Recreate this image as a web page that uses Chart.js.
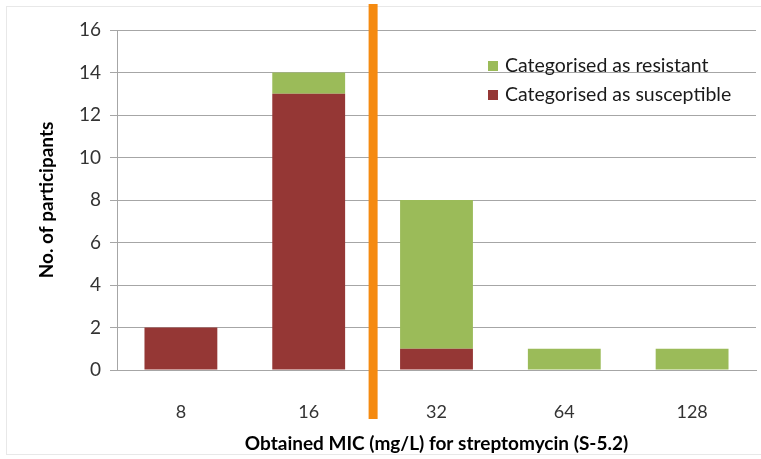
<!DOCTYPE html>
<html>
<head>
<meta charset="utf-8">
<script src="https://cdn.jsdelivr.net/npm/chart.js@4.4.0/dist/chart.umd.min.js"></script>
<style>
  html, body { margin: 0; padding: 0; background: #fff; }
  #wrap { width: 761px; height: 459px; }
</style>
</head>
<body>
<div id="wrap"><canvas id="grafico" width="761" height="459"></canvas></div>
<script>
const categorias = ['8', '16', '32', '64', '128'];
const susceptibles = [2, 13, 1, 0, 0];
const resistentes = [0, 1, 7, 1, 1];
const corte = 1.5; // breakpoint between 16 and 32
const ticksY = [0, 2, 4, 6, 8, 10, 12, 14, 16];

const rojo = '#953735';
const verde = '#9bbb59';
const naranja = '#f58a10';
const gris = '#a6a6a6';
const texto = '#333333';
const fuente = 'Lato, "Open Sans", sans-serif';

const extras = {
    id: 'extras',
    beforeDraw(chart) {
        const ctx = chart.ctx;
        ctx.save();
        ctx.strokeStyle = '#e8e8e8';
        ctx.lineWidth = 1;
        ctx.strokeRect(6.5, 6.5, 800, 448);
        ctx.restore();
    },
    afterDraw(chart) {
        const ctx = chart.ctx;
        const area = chart.chartArea;
        const x = chart.scales.x.getPixelForValue(corte);
        ctx.save();
        ctx.fillStyle = naranja;
        ctx.fillRect(x - 4, 4, 9, 415);

        // legend
        const items = chart.data.datasets.slice().reverse();
        let y = area.top + 36;
        ctx.font = '19.5px ' + fuente;
        ctx.textBaseline = 'middle';
        items.forEach(ds => {
            ctx.fillStyle = ds.backgroundColor;
            ctx.fillRect(area.left + 371, y - 5, 10, 10);
            ctx.fillStyle = '#1a1a1a';
            ctx.fillText(ds.label, area.left + 388, y);
            y += 29;
        });
        ctx.restore();
    }
};

new Chart(document.getElementById('grafico'), {
    type: 'bar',
    data: {
        labels: categorias,
        datasets: [
            { label: 'Categorised as susceptible', data: susceptibles, backgroundColor: rojo },
            { label: 'Categorised as resistant', data: resistentes, backgroundColor: verde }
        ]
    },
    options: {
        responsive: false,
        animation: false,
        layout: { padding: { top: 30, right: 5, bottom: 0, left: 35 } },
        plugins: {
            legend: { display: false },
            tooltip: { enabled: false }
        },
        datasets: {
            bar: { categoryPercentage: 1, barPercentage: 0.57 }
        },
        scales: {
            x: {
                stacked: true,
                grid: { display: false },
                border: { display: true, color: gris },
                ticks: { color: texto, font: { family: fuente, size: 18 }, padding: 23 },
                title: {
                    display: true,
                    text: 'Obtained MIC (mg/L) for streptomycin (S-5.2)',
                    color: '#000',
                    font: { family: fuente, size: 19, weight: 'bold' },
                    padding: { top: 0, bottom: 4 }
                },
                afterFit(scale) { scale.height = 89; }
            },
            y: {
                stacked: true,
                min: 0,
                max: 16,
                afterBuildTicks(scale) { scale.ticks = ticksY.map(v => ({ value: v })); },
                grid: { color: gris, tickLength: 7 },
                border: { display: true, color: gris },
                ticks: { color: texto, font: { family: fuente, size: 19 }, padding: 9 },
                title: {
                    display: true,
                    text: 'No. of participants',
                    color: '#000',
                    font: { family: fuente, size: 19, weight: 'bold' },
                    padding: { top: 0, bottom: 0 }
                },
                afterFit(scale) { scale.width = 82; }
            }
        }
    },
    plugins: [extras]
});
</script>
</body>
</html>
